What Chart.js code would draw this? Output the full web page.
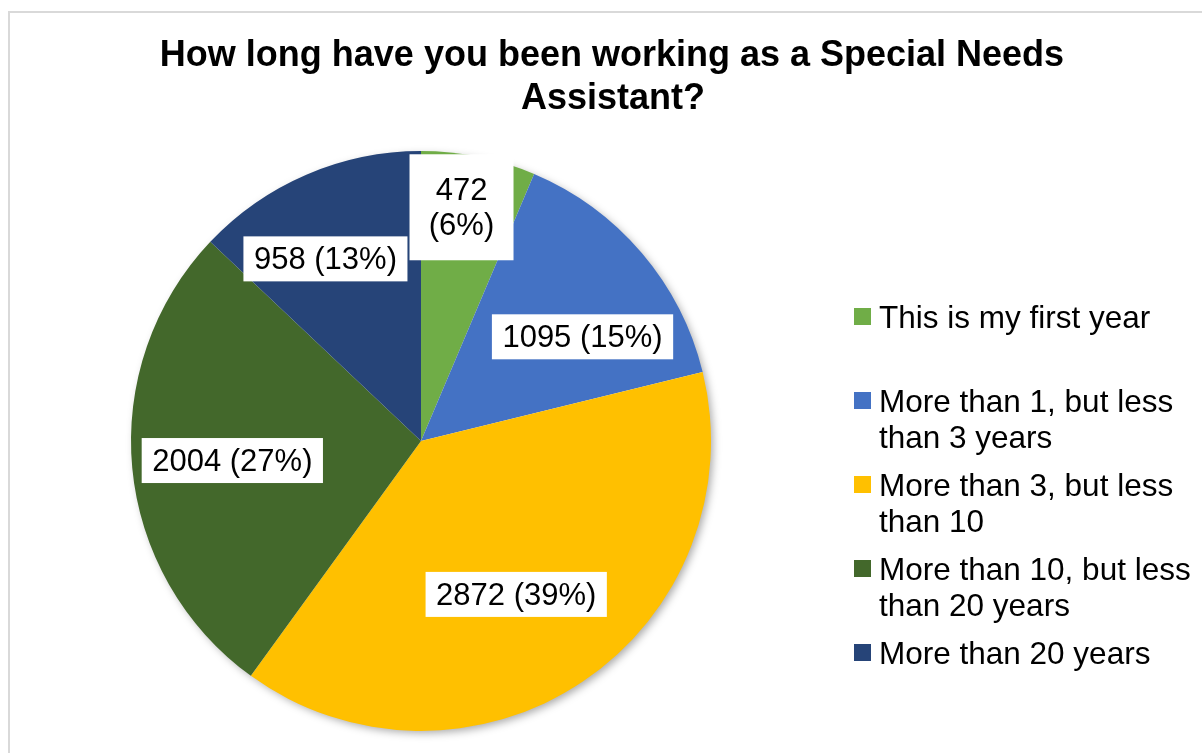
<!DOCTYPE html>
<html>
<head>
<meta charset="utf-8">
<title>Special Needs Assistant</title>
<script src="https://cdn.jsdelivr.net/npm/chart.js@4"></script>
<style>
    body { margin: 0; background: #fff; }
    canvas { display: block; }
</style>
</head>
<body>
<canvas id="myChart_1" width="1202" height="753"></canvas>
<script>
let categories = [
    'This is my first year',
    'More than 1, but less than 3 years',
    'More than 3, but less than 10',
    'More than 10, but less than 20 years',
    'More than 20 years'
];
let counts = [472, 1095, 2872, 2004, 958];
let colours = ['#70AD47', '#4472C4', '#FFC000', '#43682B', '#264478'];
let titleLines = ['How long have you been working as a Special Needs', 'Assistant?'];

// small hand nudges so boxes sit where Excel put them
let labelNudge = [[3, -49], [18, 18], [-10, -3], [-1, 2], [-21, -9]];

const FONT = '"Liberation Sans", Arial, sans-serif';

function wrapText(ctx, text, maxWidth) {
    let words = text.split(' ');
    let lines = [];
    let line = '';
    words.forEach((w) => {
        let test = line ? line + ' ' + w : w;
        if (ctx.measureText(test).width > maxWidth && line) {
            lines.push(line);
            line = w;
        } else {
            line = test;
        }
    })
    lines.push(line);
    return lines;
}

const decorPlugin = {
    id: 'decor',
    beforeDraw(chart) {
        const ctx = chart.ctx;
        ctx.save();
        ctx.strokeStyle = '#d9d9d9';
        ctx.lineWidth = 2;
        ctx.strokeRect(9, 12, 1220, 780);

        ctx.fillStyle = '#000';
        ctx.font = 'bold 36px ' + FONT;
        ctx.textAlign = 'center';
        ctx.textBaseline = 'alphabetic';
        ctx.fillText(titleLines[0], 612, 66);
        ctx.fillText(titleLines[1], 613, 109);
        ctx.restore();
    },
    beforeDatasetsDraw(chart) {
        // soft shadow under the pie
        const arc = chart.getDatasetMeta(0).data[0];
        if (!arc) return;
        const ctx = chart.ctx;
        ctx.save();
        ctx.shadowColor = 'rgba(0,0,0,0.35)';
        ctx.shadowBlur = 9;
        ctx.shadowOffsetX = 3;
        ctx.shadowOffsetY = 3;
        ctx.fillStyle = '#fff';
        ctx.beginPath();
        ctx.arc(arc.x, arc.y, arc.outerRadius - 1, 0, Math.PI * 2);
        ctx.fill();
        ctx.restore();
    },
    afterDatasetsDraw(chart) {
        const ctx = chart.ctx;
        const meta = chart.getDatasetMeta(0);
        const total = counts.reduce((a, b) => a + b, 0);
        ctx.save();
        ctx.font = '31px ' + FONT;
        ctx.textAlign = 'center';
        ctx.textBaseline = 'middle';

        meta.data.forEach((arc, i) => {
            const p = arc.getProps(['x', 'y', 'startAngle', 'endAngle', 'outerRadius']);
            const mid = (p.startAngle + p.endAngle) / 2;
            const cx = p.x + Math.cos(mid) * p.outerRadius * 0.65 + labelNudge[i][0];
            const cy = p.y + Math.sin(mid) * p.outerRadius * 0.65 + labelNudge[i][1];
            const pct = Math.round(counts[i] / total * 100);
            let lines;
            let w;
            if (p.endAngle - p.startAngle < 0.5) {
                lines = [String(counts[i]), '(' + pct + '%)'];
                w = 104;
            } else {
                lines = [counts[i] + ' (' + pct + '%)'];
                w = ctx.measureText(lines[0]).width + 21;
            }
            const lh = 35;
            const h = lines.length === 1 ? 45 : lines.length * lh + 36;
            ctx.fillStyle = '#fff';
            ctx.fillRect(cx - w / 2, cy - h / 2, w, h);
            ctx.fillStyle = '#000';
            lines.forEach((t, k) => {
                ctx.fillText(t, cx, cy + (k - (lines.length - 1) / 2) * lh + 2);
            })
        })

        // legend
        ctx.font = '31.5px ' + FONT;
        ctx.textAlign = 'left';
        ctx.textBaseline = 'alphabetic';
        let baseY = 325;
        categories.forEach((c, i) => {
            ctx.fillStyle = colours[i];
            ctx.fillRect(854, baseY - 17, 17, 17);
            ctx.fillStyle = '#000';
            wrapText(ctx, c, 322).forEach((t, k) => {
                ctx.fillText(t, 879, baseY + 3 + k * 36);
            })
            baseY += 84;
        })
        ctx.restore();
    }
};

let ct1 = document.getElementById('myChart_1').getContext('2d');

let myChart_1 = new Chart(ct1, {
    type: 'pie',
    data: {
        labels: categories,
        datasets: [
            {
                data: counts,
                backgroundColor: colours,
                borderWidth: 0
            }
        ]
    },
    options: {
        responsive: false,
        animation: false,
        layout: {
            padding: { left: 131, top: 151, right: 491, bottom: 22 }
        },
        plugins: {
            legend: { display: false },
            title: { display: false },
            tooltip: { enabled: false }
        }
    },
    plugins: [decorPlugin]
});
</script>
</body>
</html>
